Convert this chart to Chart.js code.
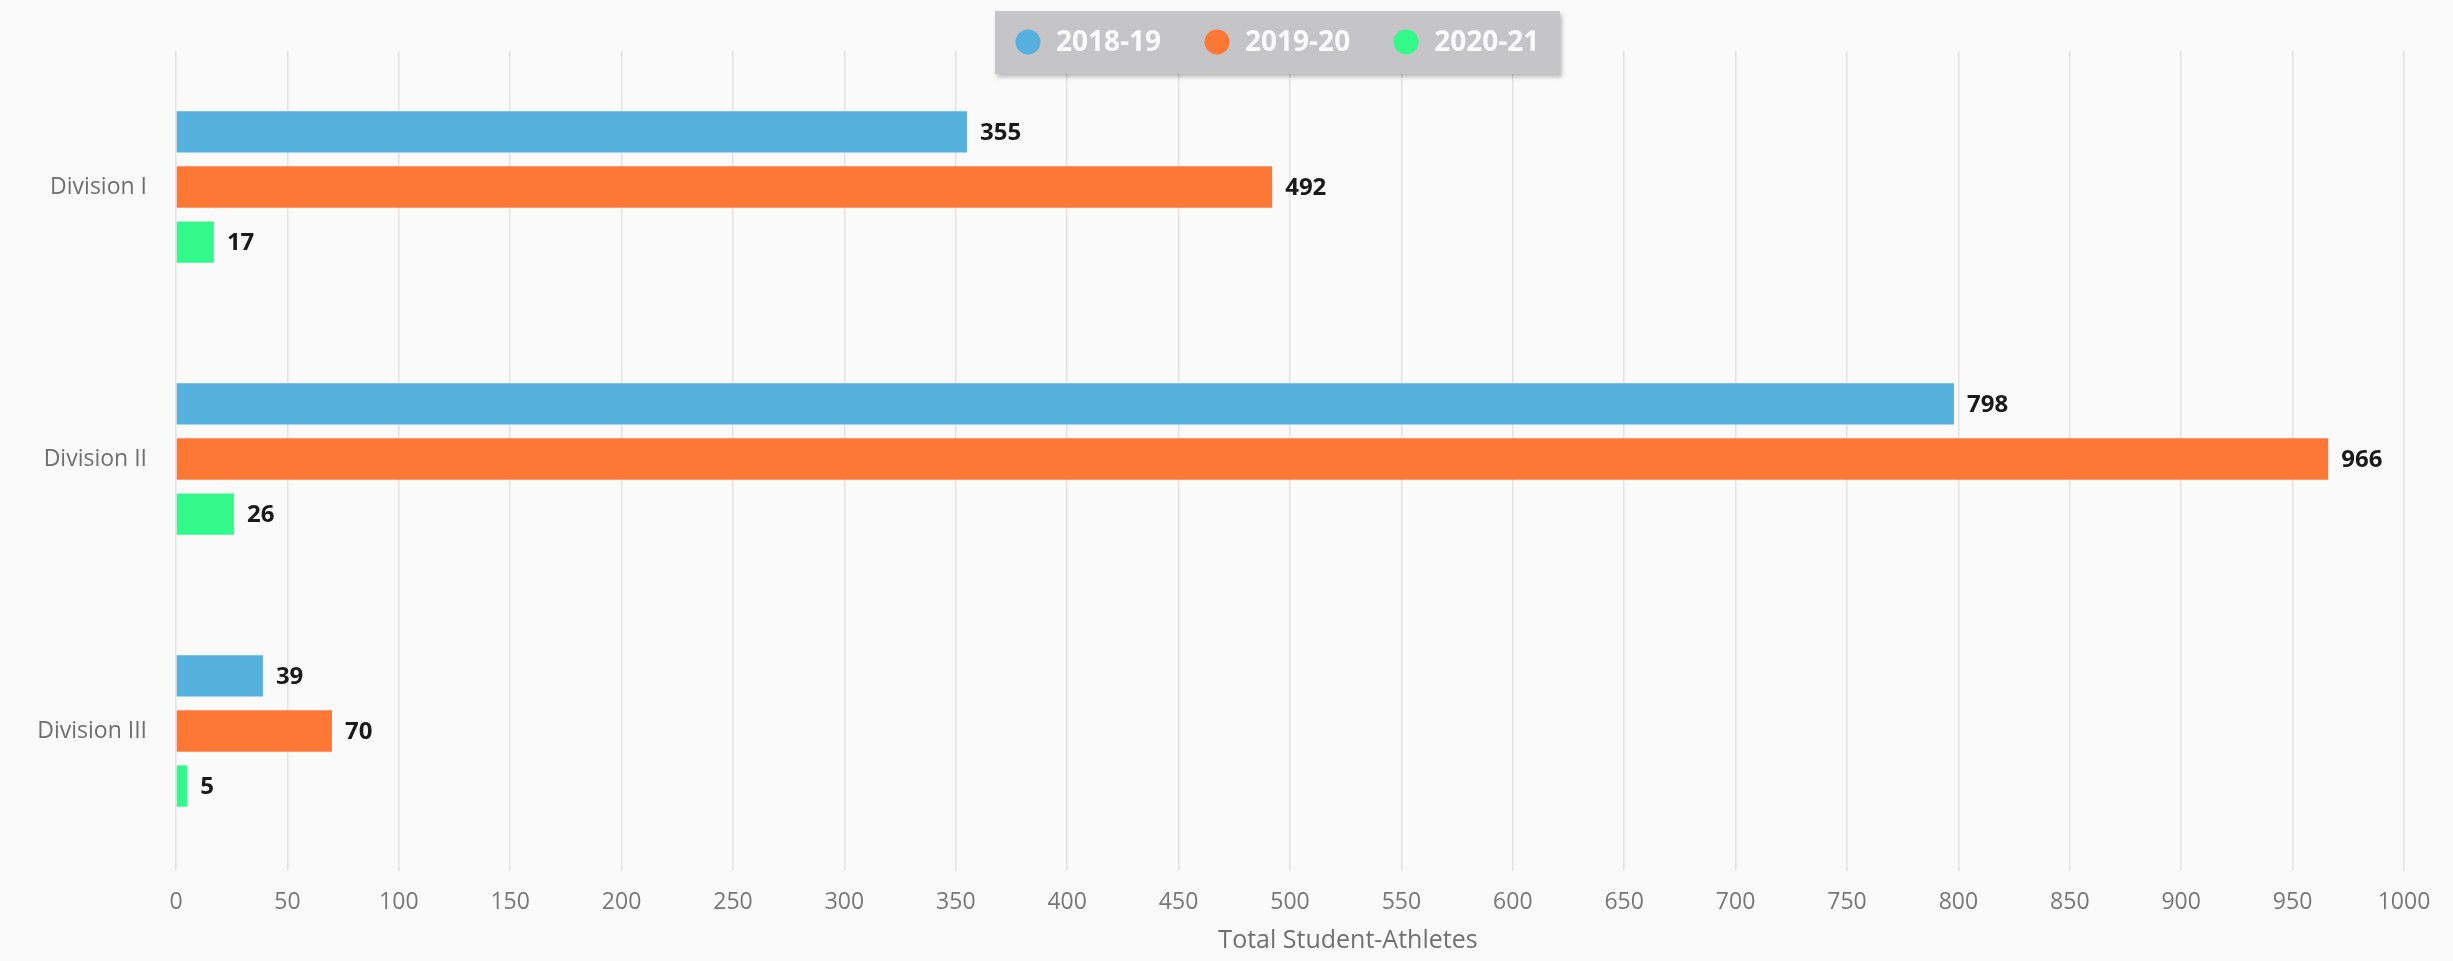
<!DOCTYPE html>
<html>
<head>
<meta charset="utf-8">
<script src="https://cdn.jsdelivr.net/npm/chart.js@4"></script>
<style>
    html, body { margin: 0; padding: 0; background: #fafafa; }
    #wrap { width: 2453px; height: 961px; }
</style>
</head>
<body>
<div id="wrap"><canvas id="divisionesChart" width="2453" height="961"></canvas></div>
<script>
// Datos
const divisiones = ['Division I', 'Division II', 'Division III'];
const temporadas = ['2018-19', '2019-20', '2020-21'];
const valores2018 = [355, 798, 39];
const valores2019 = [492, 966, 70];
const valores2020 = [17, 26, 5];
const xTicks = [0, 50, 100, 150, 200, 250, 300, 350, 400, 450, 500, 550, 600, 650, 700, 750, 800, 850, 900, 950, 1000];
const tituloEje = 'Total Student-Athletes';

const colores = ['#55b0dd', '#fd7835', '#33f88a'];
const fuente = "'Open Sans', 'DejaVu Sans', sans-serif";

// Fondo, etiquetas de valores, leyenda y título del eje
const extrasPlugin = {
    id: 'extras',
    beforeDraw(chart) {
        const ctx = chart.ctx;
        ctx.save();
        ctx.fillStyle = '#fafafa';
        ctx.fillRect(0, 0, chart.width, chart.height);
        ctx.restore();
    },
    afterDatasetsDraw(chart) {
        const ctx = chart.ctx;
        ctx.save();
        ctx.font = 'bold 24px ' + fuente;
        ctx.fillStyle = '#1a1a1a';
        ctx.textBaseline = 'middle';
        ctx.textAlign = 'left';
        chart.data.datasets.forEach((ds, i) => {
            chart.getDatasetMeta(i).data.forEach((bar, j) => {
                ctx.fillText(ds.data[j], bar.x + 13, bar.y + 1);
            });
        });
        ctx.restore();
    },
    afterDraw(chart) {
        const ctx = chart.ctx;
        ctx.save();

        // caja de la leyenda
        ctx.shadowColor = 'rgba(0,0,0,0.25)';
        ctx.shadowOffsetX = 2;
        ctx.shadowOffsetY = 3;
        ctx.shadowBlur = 4;
        ctx.fillStyle = '#c5c5c7';
        ctx.fillRect(995, 11, 565, 63);
        ctx.shadowColor = 'transparent';

        ctx.font = 'bold 28px ' + fuente;
        ctx.textBaseline = 'middle';
        let x = 1015.5;
        chart.data.datasets.forEach(ds => {
            ctx.fillStyle = ds.backgroundColor;
            ctx.beginPath();
            ctx.arc(x + 12.5, 42, 12.5, 0, Math.PI * 2);
            ctx.fill();
            ctx.fillStyle = '#fbfbfb';
            ctx.fillText(ds.label, x + 40.5, 43);
            x += 40.5 + ctx.measureText(ds.label).width + 43.5;
        });

        // título del eje x
        ctx.font = '25px ' + fuente;
        ctx.fillStyle = '#707070';
        ctx.textAlign = 'center';
        ctx.fillText(tituloEje, 1348, 941);
        ctx.restore();
    }
};

new Chart(document.getElementById('divisionesChart').getContext('2d'), {
    type: 'bar',
    data: {
        labels: divisiones,
        datasets: [
            { label: temporadas[0], data: valores2018, backgroundColor: colores[0] },
            { label: temporadas[1], data: valores2019, backgroundColor: colores[1] },
            { label: temporadas[2], data: valores2020, backgroundColor: colores[2] }
        ]
    },
    options: {
        indexAxis: 'y',
        responsive: false,
        animation: false,
        categoryPercentage: 0.607,
        barPercentage: 0.75,
        layout: { padding: { top: 51, right: 49, left: 0, bottom: 0 } },
        scales: {
            x: {
                min: 0,
                max: 1000,
                afterBuildTicks: (scale) => { scale.ticks = xTicks.map(v => ({ value: v })); },
                afterFit: (scale) => { scale.height = 94; },
                grid: { color: '#e2e2e2', lineWidth: 1.5, tickLength: 4 },
                border: { display: false },
                ticks: {
                    color: '#777',
                    font: { family: fuente, size: 23 },
                    padding: 18,
                    callback: (value) => String(value)
                }
            },
            y: {
                afterFit: (scale) => { scale.width = 176; },
                grid: { display: false },
                border: { display: false },
                ticks: { color: '#6e6e6e', font: { family: fuente, size: 23 }, padding: 21 }
            }
        },
        plugins: {
            legend: { display: false },
            tooltip: { enabled: false }
        }
    },
    plugins: [extrasPlugin]
});
</script>
</body>
</html>
